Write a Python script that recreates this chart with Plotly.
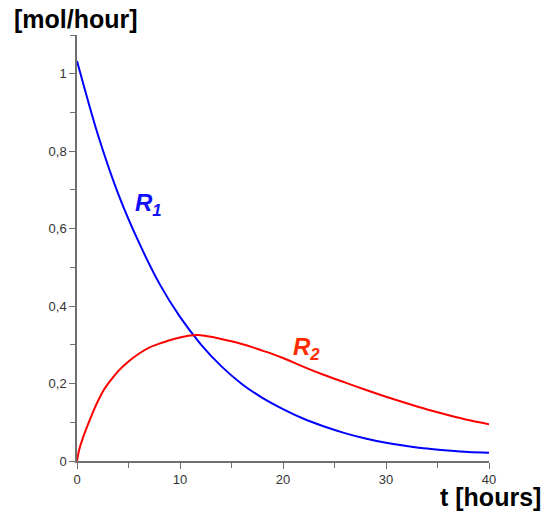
import plotly.graph_objects as go

# R1
t1 = [0, 2, 4, 6, 8, 10, 12, 14, 16, 18, 20, 22, 24, 26, 28, 30, 32, 34, 36, 38, 40]
r1 = [1.033, 0.845, 0.69, 0.565, 0.458, 0.372, 0.302, 0.245, 0.199, 0.163, 0.134,
      0.109, 0.089, 0.072, 0.058, 0.047, 0.039, 0.032, 0.027, 0.023, 0.021]

# R2
t2 = [0, 0.2, 0.5, 1, 1.5, 2, 2.5, 3, 3.5, 4, 5, 6, 7, 8, 9, 10, 11, 12, 13, 14, 15,
      16, 17, 18, 19, 20, 22, 24, 26, 28, 30, 32, 34, 36, 38, 40]
r2 = [0, 0.028, 0.054, 0.09, 0.123, 0.153, 0.179, 0.199, 0.216, 0.232, 0.257, 0.277,
      0.293, 0.303, 0.312, 0.319, 0.324, 0.325, 0.321, 0.315, 0.309, 0.302, 0.294,
      0.285, 0.276, 0.266, 0.243, 0.222, 0.203, 0.184, 0.166, 0.149, 0.133, 0.119,
      0.106, 0.095]

x_ticks = [0, 10, 20, 30, 40]
y_ticks = [0, 0.2, 0.4, 0.6, 0.8, 1.0]
y_tick_labels = ["0", "0,2", "0,4", "0,6", "0,8", "1"]

fig = go.Figure()
fig.add_trace(go.Scatter(x=t1, y=r1, mode="lines",
                         line=dict(color="#0000ff", width=2, shape="spline", smoothing=0.8),
                         showlegend=False))
fig.add_trace(go.Scatter(x=t2, y=r2, mode="lines",
                         line=dict(color="#ff0000", width=2, shape="spline", smoothing=0.8),
                         showlegend=False))

axis_common = dict(showgrid=False, zeroline=False, showline=True, linecolor="#707070", linewidth=1.5,
                   ticks="outside", ticklen=6, tickwidth=1, tickcolor="#707070",
                   tickfont=dict(family="Liberation Sans", size=13, color="#333333"))

fig.update_xaxes(range=[0, 40], tickvals=x_ticks, ticktext=[str(v) for v in x_ticks],
                 minor=dict(dtick=5, ticks="outside", ticklen=5, tickcolor="#707070"),
                 **axis_common)
fig.update_yaxes(range=[0, 1.1], tickvals=y_ticks, ticktext=y_tick_labels,
                 minor=dict(dtick=0.1, ticks="outside", ticklen=5, tickcolor="#707070"),
                 **axis_common)

fig.add_annotation(text="<b><i>R<sub>1</sub></i></b>", x=5.45, y=0.662, xref="x", yref="y",
                   xanchor="left", yanchor="middle", showarrow=False,
                   font=dict(family="Liberation Sans", size=24, color="#1010ff"))
fig.add_annotation(text="<b><i>R<sub>2</sub></i></b>", x=20.8, y=0.29, xref="x", yref="y",
                   xanchor="left", yanchor="middle", showarrow=False,
                   font=dict(family="Liberation Sans", size=24, color="#ff2a00"))

fig.add_annotation(text="<b>[mol/hour]</b>", x=-0.158, y=1.075, xref="paper", yref="paper",
                   xanchor="left", yanchor="top", showarrow=False,
                   font=dict(family="Liberation Sans", size=25, color="#000000"))
fig.add_annotation(text="<b>t [hours]</b>", x=1.13, y=-0.122, xref="paper", yref="paper",
                   xanchor="right", yanchor="bottom", showarrow=False,
                   font=dict(family="Liberation Sans", size=25, color="#000000"))

fig.update_layout(width=544, height=513, margin=dict(l=77, r=55, t=35, b=52),
                  plot_bgcolor="white", paper_bgcolor="white", separators=",.")
fig.write_html("out.html")
